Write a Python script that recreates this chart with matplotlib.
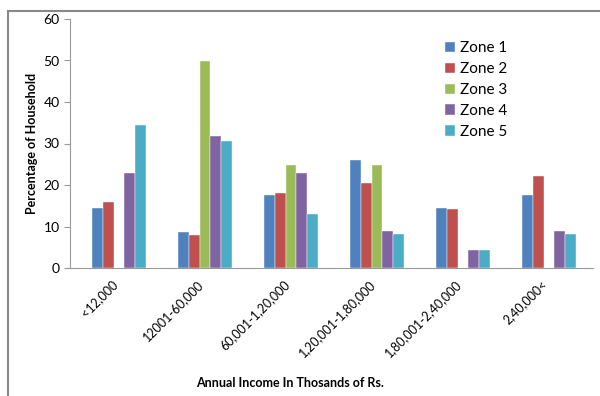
import matplotlib
matplotlib.use("Agg")
import matplotlib.pyplot as plt
import numpy as np
from matplotlib.patches import Rectangle
from matplotlib.transforms import ScaledTranslation

plt.rcParams['font.family'] = ['Lato', 'DejaVu Sans']

categories = ["<12,000", "12001-60,000", "60,001-1,20,000", "1,20,001-1,80,000",
              "1,80,001-2,40,000", "2,40,000<"]
zones = ["Zone 1", "Zone 2", "Zone 3", "Zone 4", "Zone 5"]
zone1 = [14.5, 8.6, 17.5, 26.1, 14.4, 17.5]
zone2 = [16.0, 8.0, 18.1, 20.4, 14.1, 22.2]
zone3 = [0.0, 49.9, 24.7, 24.7, 0.0, 0.0]
zone4 = [22.8, 31.7, 22.8, 8.9, 4.3, 8.9]
zone5 = [34.5, 30.5, 12.9, 8.3, 4.3, 8.3]
series = [zone1, zone2, zone3, zone4, zone5]
colors = ["#4F81BD", "#C0504D", "#9BBB59", "#8064A2", "#4BACC6"]

fig = plt.figure(figsize=(6, 3.96), dpi=100)
ax = fig.add_axes([70/600, 1-268/396, (593-70)/600, (268-19)/396])

x = np.arange(len(categories))
w = 0.127
for i, (vals, c, name) in enumerate(zip(series, colors, zones)):
    ax.bar(x + (i - 2) * w, vals, width=w, color=c, label=name, edgecolor='white', linewidth=0.3)

ax.set_xlim(-0.5 - 6/86, -0.5 - 6/86 + 523/86)
ax.set_ylim(0, 60)
ax.set_yticks(range(0, 61, 10))
ax.set_xticks(x)
ax.set_xticklabels(categories, rotation=45, ha='right', va='top', rotation_mode='anchor', fontsize=9)
ax.tick_params(axis='x', length=0, pad=7)
offset = ScaledTranslation(-8/100, 0, fig.dpi_scale_trans)
for lab in ax.get_xticklabels():
    lab.set_transform(lab.get_transform() + offset)
ax.tick_params(axis='y', labelsize=10, length=4, color='#999999', direction='out')
for s in ['top', 'right']:
    ax.spines[s].set_visible(False)
ax.spines['left'].set_color('#999999')
ax.spines['bottom'].set_color('#999999')
ax.set_ylabel("Percentage of Household", fontsize=9, fontweight='bold', labelpad=4)
fig.text(290/600, 1 - 383/396, "Annual Income In Thosands of Rs.",
         ha='center', va='center', fontsize=9, fontweight='bold')

leg = ax.legend(loc='upper left', bbox_to_anchor=(0.69, 0.965), frameon=False, fontsize=11,
                handlelength=0.7, handleheight=0.7, handletextpad=0.3, labelspacing=0.45)

fig.patches.append(Rectangle((8/600, -0.1), 1.0, (396-10.7)/396 + 0.1, transform=fig.transFigure,
                             fill=False, edgecolor='#888888', linewidth=1.5))

fig.savefig("out.png", dpi=100)
